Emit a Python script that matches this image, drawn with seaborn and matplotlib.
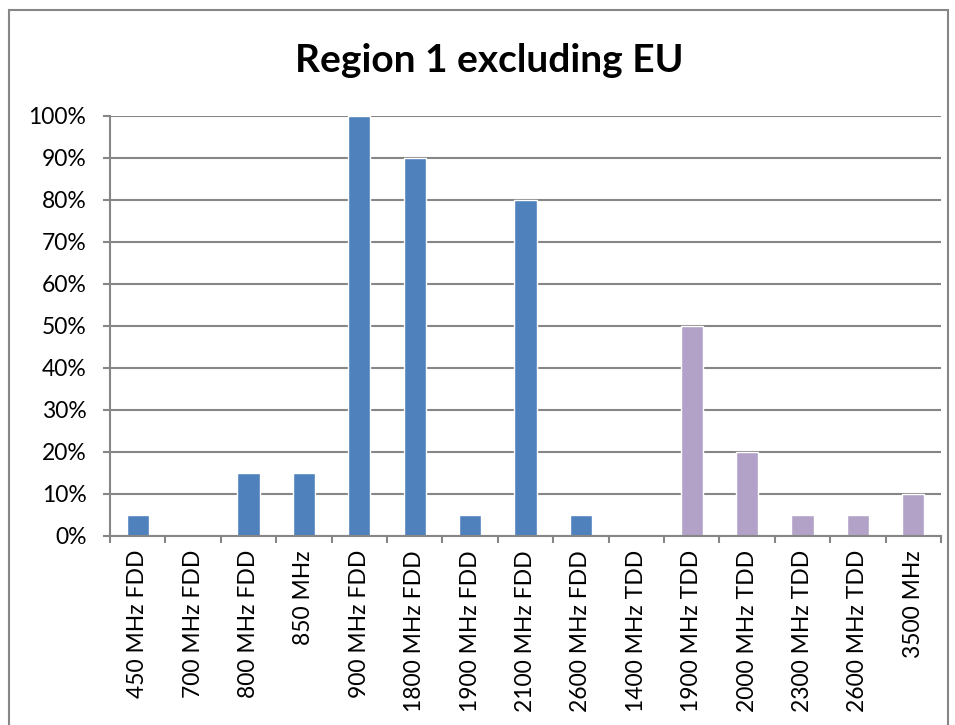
import matplotlib
matplotlib.use("Agg")
import matplotlib.pyplot as plt
from matplotlib.patches import Rectangle
from matplotlib.ticker import PercentFormatter, FixedLocator
import pandas as pd
import seaborn as sns

# 数据
bands = [
    "450 MHz FDD", "700 MHz FDD", "800 MHz FDD", "850 MHz", "900 MHz FDD",
    "1800 MHz FDD", "1900 MHz FDD", "2100 MHz FDD", "2600 MHz FDD",
    "1400 MHz TDD", "1900 MHz TDD", "2000 MHz TDD", "2300 MHz TDD",
    "2600 MHz TDD", "3500 MHz",
]
shares = [5, 0, 15, 15, 100, 90, 5, 80, 5, 0, 50, 20, 5, 5, 10]
groups = ["FDD"] * 9 + ["TDD"] * 6

colors = {"FDD": "#4F81BD", "TDD": "#B3A2C7"}
grid_grey = "#868686"

df = pd.DataFrame({"band": bands, "share": shares, "group": groups})

sns.set_style("white")
plt.rcParams["font.family"] = ["Lato", "DejaVu Sans"]
plt.rcParams["text.color"] = "black"
plt.rcParams["xtick.labelcolor"] = "black"
plt.rcParams["ytick.labelcolor"] = "black"

fig = plt.figure(figsize=(9.55, 7.25), dpi=100)
ax = fig.add_axes([110 / 955, 1 - 536 / 725, 831 / 955, 420 / 725])

sns.barplot(
    data=df, x="band", y="share", hue="group", palette=colors,
    dodge=False, width=0.4, legend=False, saturation=1, ax=ax,
)

ax.set_ylim(0, 100)
ax.set_xlim(-0.5, len(bands) - 0.5)
ax.yaxis.set_major_locator(FixedLocator(range(0, 101, 10)))
ax.yaxis.set_major_formatter(PercentFormatter(decimals=0))
ax.yaxis.grid(True, color=grid_grey, linewidth=1.5)
ax.set_axisbelow(True)

# x 轴刻度放在类别之间
ax.set_xticks(range(len(bands)))
ax.set_xticklabels(bands, rotation=90, fontsize=16.5, color="black")
ax.tick_params(axis="x", length=0, pad=10)
ax.set_xticks([i - 0.5 for i in range(len(bands) + 1)], minor=True)
ax.tick_params(axis="x", which="minor", length=5, width=1.5, color=grid_grey,
               direction="out", bottom=True)
ax.tick_params(axis="y", labelsize=16.5, labelcolor="black", length=5,
               width=1.5, color=grid_grey, direction="out", left=True, pad=12)

for side in ["top", "right"]:
    ax.spines[side].set_visible(False)
for side in ["left", "bottom"]:
    ax.spines[side].set_color(grid_grey)
    ax.spines[side].set_linewidth(1.5)

ax.set_xlabel("")
ax.set_ylabel("")

fig.text(489 / 955, 1 - 60 / 725, "Region 1 excluding EU", ha="center",
         va="center", fontsize=28, fontweight="bold", color="black")

# 外框
fig.patches.append(Rectangle((9 / 955, -0.1), 939 / 955, 1.1 - 10 / 725,
                             transform=fig.transFigure, fill=False,
                             edgecolor=grid_grey, linewidth=1.5))

fig.savefig("out.png", dpi=100)
